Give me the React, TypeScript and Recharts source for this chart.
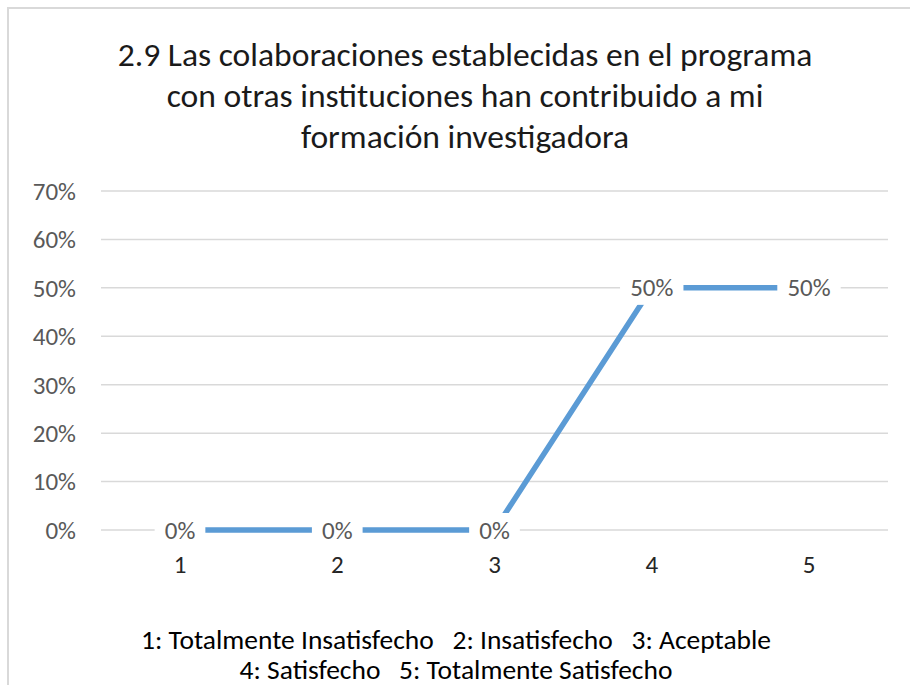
import React from "react";
import { LineChart, Line, XAxis, YAxis, CartesianGrid, LabelList } from "recharts";

const categories = ["1", "2", "3", "4", "5"];
const shares = [0, 0, 0, 50, 50];
const yTicks = [0, 10, 20, 30, 40, 50, 60, 70];
const titleLines = [
  "2.9 Las colaboraciones establecidas en el programa",
  "con otras instituciones han contribuido a mi",
  "formación investigadora",
];
const legendLines = [
  "1: Totalmente Insatisfecho   2: Insatisfecho   3: Aceptable",
  "4: Satisfecho   5: Totalmente Satisfecho",
];

const data = categories.map((c, i) => ({ name: c, value: shares[i] }));

const FONT = "Carlito, 'Liberation Sans', sans-serif";

function BoxLabel(props: any) {
  const { x, y, value } = props;
  const text = `${value}%`;
  const tw = (text.length - 1) * 12.7 + 18;
  const w = tw + 20;
  return (
    <g>
      <rect x={x - w / 2} y={y - 17} width={w} height={34} fill="#ffffff" />
      <text
        x={x}
        y={y}
        textAnchor="middle"
        dominantBaseline="central"
        fill="#595959"
        fontSize={25}
        fontFamily={FONT}
      >
        {text}
      </text>
    </g>
  );
}

export default function App() {
  return (
    <div style={{ position: "absolute", left: 0, top: 0, width: 910, height: 685, background: "#fff", overflow: "hidden" }}>
      <div
        style={{
          position: "absolute",
          left: 7,
          top: 7,
          width: 920,
          height: 700,
          borderTop: "2px solid #d9d9d9",
          borderLeft: "2px solid #d9d9d9",
        }}
      />
      <div
        style={{
          position: "absolute",
          left: 0,
          top: 34,
          width: 930,
          textAlign: "center",
          fontFamily: FONT,
          fontSize: 33.6,
          lineHeight: "41px",
          color: "#1a1a1a",
        }}
      >
        {titleLines.map((t) => (
          <div key={t}>{t}</div>
        ))}
      </div>
      <div style={{ position: "absolute", left: 0, top: 0 }}>
        <LineChart
          width={910}
          height={685}
          data={data}
          margin={{ top: 191, right: 22, bottom: 115, left: 41 }}
        >
          <CartesianGrid vertical={false} stroke="#d9d9d9" strokeWidth={1.5} />
          <XAxis
            dataKey="name"
            height={40}
            padding={{ left: 79, right: 79 }}
            axisLine={false}
            tickLine={false}
            tickSize={0}
            tickMargin={25}
            tick={{ fill: "#262626", fontSize: 25, fontFamily: FONT }}
          />
          <YAxis
            width={60}
            domain={[0, 70]}
            ticks={yTicks}
            tickFormatter={(v) => `${v}%`}
            axisLine={false}
            tickLine={false}
            tickSize={0}
            tickMargin={25}
            tick={{ fill: "#595959", fontSize: 25, fontFamily: FONT }}
            interval={0}
          />
          <Line
            type="linear"
            dataKey="value"
            stroke="#5b9bd5"
            strokeWidth={5.5}
            dot={false}
            activeDot={false}
            isAnimationActive={false}
          >
            <LabelList dataKey="value" content={<BoxLabel />} />
          </Line>
        </LineChart>
      </div>
      <div
        style={{
          position: "absolute",
          left: 0,
          top: 625,
          width: 912,
          textAlign: "center",
          fontFamily: FONT,
          fontSize: 27.5,
          lineHeight: "30px",
          color: "#000",
          whiteSpace: "pre",
        }}
      >
        {legendLines.map((t) => (
          <div key={t}>{t}</div>
        ))}
      </div>
    </div>
  );
}
